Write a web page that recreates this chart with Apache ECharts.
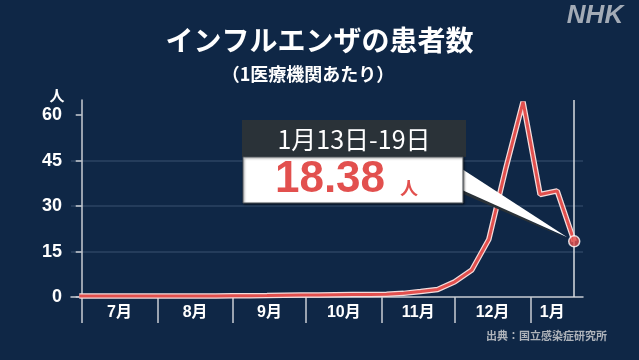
<!DOCTYPE html>
<html>
<head>
<meta charset="utf-8">
<script src="https://cdn.jsdelivr.net/npm/echarts@6/dist/echarts.min.js"></script>
<style>
html,body{margin:0;padding:0;background:#0f2746;}
#c{width:639px;height:360px;}
</style>
</head>
<body>
<div id="c"></div>
<script>
// Week-ending dates (Sundays) and patients per sentinel clinic
var weekEnds = ['2024-06-30','2024-07-07','2024-07-14','2024-07-21','2024-07-28','2024-08-04','2024-08-11','2024-08-18','2024-08-25','2024-09-01','2024-09-08','2024-09-15','2024-09-22','2024-09-29','2024-10-06','2024-10-13','2024-10-20','2024-10-27','2024-11-03','2024-11-10','2024-11-17','2024-11-24','2024-12-01','2024-12-08','2024-12-15','2024-12-22','2024-12-29','2025-01-05','2025-01-12','2025-01-19'];
var patients = [0.3,0.3,0.3,0.3,0.3,0.3,0.3,0.3,0.35,0.4,0.45,0.5,0.6,0.65,0.7,0.75,0.8,0.8,0.9,1.2,1.8,2.5,5.0,8.9,19.06,42.66,64.39,33.82,35.02,18.38];
var monthStarts = ['2024-07-01','2024-08-01','2024-09-01','2024-10-01','2024-11-01','2024-12-01','2025-01-01'];
var monthLabels = ['7月','8月','9月','10月','11月','12月','1月'];
var yTicks = [0,15,30,45,60];
var yUnit = '人';
var calloutDate = '1月13日-19日';
var calloutValue = '18.38';
var calloutUnit = '人';

// day number counted from 2024-07-01
var ORIGIN = Date.UTC(2024,6,1);
function day(s){var p=s.split('-');return (Date.UTC(+p[0],+p[1]-1,+p[2])-ORIGIN)/86400000;}
var points = weekEnds.map(function(d,i){return [day(d), patients[i]];});
var lastPt = points[points.length-1];
var tickVals = monthStarts.map(day);
var labelVals = tickVals.map(function(t,i){
  var end = i < tickVals.length-1 ? tickVals[i+1] : lastPt[0];
  return (t+end)/2;
});
var xMin = -4.4;
var xMax = day('2025-01-01') + 21.6;

var chart = echarts.init(document.getElementById('c'));
var FONT = '"Liberation Sans","Noto Sans CJK JP",sans-serif';
var CJK = '"Noto Sans CJK JP","Liberation Sans",sans-serif';
var AXC = '#c9cdd3';

chart.setOption({
  backgroundColor:'#0f2746',
  animation:false,
  textStyle:{fontFamily:FONT},
  grid:{left:71,right:56,top:100,bottom:63},
  xAxis:{
    type:'value', min:xMin, max:xMax,
    axisLine:{show:true,onZero:false,lineStyle:{color:AXC,width:1.5}},
    axisTick:{show:true,customValues:tickVals,length:26,lineStyle:{color:AXC,width:1.5}},
    axisLabel:{customValues:labelVals,color:'#fff',fontSize:16,fontWeight:'bold',margin:8,fontFamily:FONT,
      formatter:function(v){
        var best=0,bd=Infinity;
        for(var i=0;i<labelVals.length;i++){var d=Math.abs(labelVals[i]-v);if(d<bd){bd=d;best=i;}}
        return monthLabels[best];
      }},
    splitLine:{show:false}
  },
  yAxis:{
    type:'value', min:0, max:65, interval:15,
    axisLine:{show:true,lineStyle:{color:AXC,width:1.5}},
    axisTick:{show:true,customValues:yTicks,length:6,lineStyle:{color:AXC,width:1.5}},
    axisLabel:{customValues:yTicks,color:'#fff',fontSize:18,fontWeight:'bold',margin:9},
    splitLine:{show:true,showMinLine:false,showMaxLine:false,lineStyle:{color:'#2d4463',width:1.5}}
  },
  series:[
    {type:'line',data:points,showSymbol:false,silent:true,z:2,
     lineStyle:{color:'#f3dcdc',width:5.5}},
    {type:'line',data:points,showSymbol:false,silent:true,z:3,
     lineStyle:{color:'#e2504e',width:3},
     markLine:{silent:true,symbol:'none',label:{show:false},
       lineStyle:{color:'#d9dce0',width:1.5,type:'solid'},
       data:[{xAxis:lastPt[0]}]}},
    {type:'scatter',data:[lastPt],z:6,symbolSize:11,silent:true,
     itemStyle:{color:'#e2504e',borderColor:'#fff',borderWidth:1.5}}
  ]
});

var tip = chart.convertToPixel({seriesIndex:1}, lastPt);
chart.setOption({
  graphic:[
    {type:'text',left:'center',top:26,style:{text:'インフルエンザの患者数',fill:'#fff',font:'bold 28px '+CJK}},
    {type:'text',x:308,y:74,style:{text:'（1医療機関あたり）',fill:'#fff',font:'bold 18px '+CJK,align:'center',verticalAlign:'middle'}},
    {type:'text',x:595,y:16,style:{text:'NHK',fill:'#a3abb6',font:'italic bold 26px "Liberation Sans",sans-serif',align:'center',verticalAlign:'middle'}},
    {type:'text',x:607,y:336,style:{text:'出典：国立感染症研究所',fill:'#aeb3ba',font:'bold 11px '+CJK,align:'right',verticalAlign:'middle'}},
    {type:'text',x:57,y:95,style:{text:yUnit,fill:'#fff',font:'bold 15px '+CJK,align:'center',verticalAlign:'middle'}},
    {type:'polygon',z:10,shape:{points:[[463,188],[463,194],[tip[0]-6,tip[1]-2]]},style:{fill:'#2a3238'}},
    {type:'polygon',z:11,shape:{points:[[462,169],[462,190],[tip[0]-7,tip[1]-4]]},style:{fill:'#ffffff'}},
    {type:'rect',z:12,shape:{x:242,y:120,width:224,height:37},style:{fill:'#2a3238'}},
    {type:'text',z:13,x:354,y:139,style:{text:calloutDate,fill:'#fff',font:'25px '+CJK,align:'center',verticalAlign:'middle'}},
    {type:'rect',z:12,shape:{x:243,y:157,width:220,height:46},style:{fill:'#ffffff',stroke:'#4a5156',lineWidth:1,shadowBlur:2,shadowColor:'rgba(0,0,0,0.5)',shadowOffsetX:1,shadowOffsetY:1}},
    {type:'text',z:13,x:330,y:180,style:{text:calloutValue,fill:'#e2504e',font:'bold 44px "Liberation Sans",sans-serif',align:'center',verticalAlign:'middle'}},
    {type:'text',z:13,x:409,y:188,style:{text:calloutUnit,fill:'#e2504e',font:'bold 18px '+CJK,align:'center',verticalAlign:'middle'}}
  ]
});
</script>
</body>
</html>
